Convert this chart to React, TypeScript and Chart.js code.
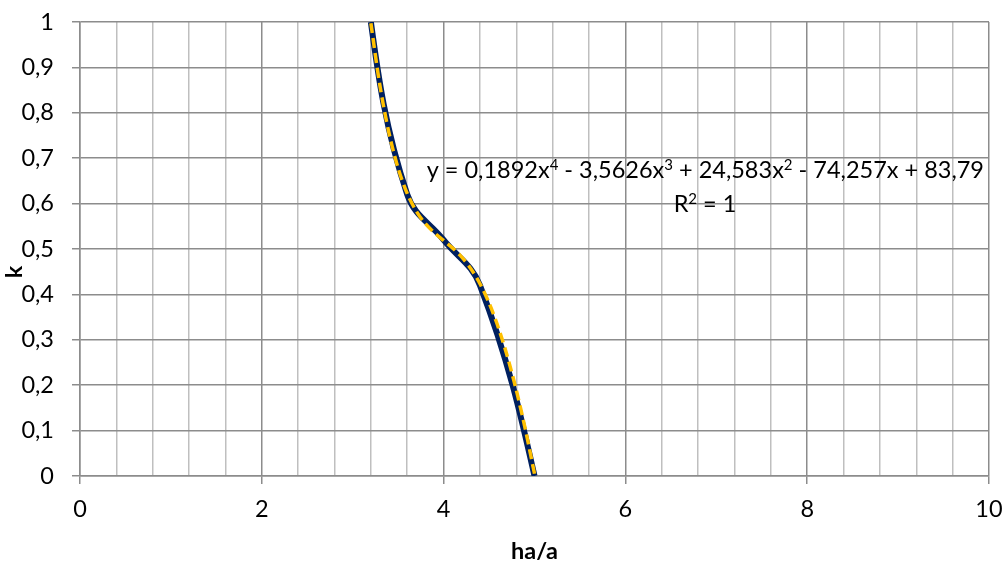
import React, { useEffect, useRef } from 'react';
import { Chart, registerables } from 'chart.js';

Chart.register(...registerables);

// Measured data (ha/a -> k)
const haA = [3.2, 3.6, 4.0, 4.4, 5.0];
const kValues = [1.0, 0.62, 0.52, 0.42, 0.0];

// Polynomial trendline shown on the chart (x^4, x^3, x^2, x, const)
const trendCoefficients = [0.1892, -3.5626, 24.583, -74.257, 83.79];
const trendSampleX = [3.2, 3.3, 3.4, 3.5, 3.6, 3.7, 3.8, 3.9, 4.0, 4.1, 4.2, 4.3, 4.4, 4.5, 4.6, 4.7, 4.8, 4.9, 5.0];

const xMajorLabels = ['0', '2', '4', '6', '8', '10'];
const yTickLabels = ['0', '0,1', '0,2', '0,3', '0,4', '0,5', '0,6', '0,7', '0,8', '0,9', '1'];

const xTitle = 'ha/a';
const yTitle = 'k';
// equation label: [text, isSuperscript]
const equationParts: [string, boolean][] = [
  ['y = 0,1892x', false], ['4', true],
  [' - 3,5626x', false], ['3', true],
  [' + 24,583x', false], ['2', true],
  [' - 74,257x + 83,79', false],
];
const r2Parts: [string, boolean][] = [['R', false], ['2', true], [' = 1', false]];

const FONT = 'Lato, "Open Sans", "Liberation Sans", sans-serif';
const FONT_SIZE = 23.5;
const SUP_SIZE = 15;

function evalPoly(c: number[], x: number) {
  return c.reduce((acc, v) => acc * x + v, 0);
}

const isMajor = (v: number) => Math.abs(v / 2 - Math.round(v / 2)) < 1e-6;

function drawParts(ctx: CanvasRenderingContext2D, parts: [string, boolean][], anchorX: number, y: number, align: 'right' | 'center') {
  const widths = parts.map(([t, sup]) => {
    ctx.font = `${sup ? SUP_SIZE : FONT_SIZE}px ${FONT}`;
    return ctx.measureText(t).width;
  });
  const total = widths.reduce((a, b) => a + b, 0);
  let x = align === 'right' ? anchorX - total : anchorX - total / 2;
  ctx.textAlign = 'left';
  ctx.textBaseline = 'alphabetic';
  parts.forEach(([t, sup], i) => {
    ctx.font = `${sup ? SUP_SIZE : FONT_SIZE}px ${FONT}`;
    ctx.fillText(t, x, sup ? y - 8 : y);
    x += widths[i];
  });
}

// Smoothed line like Excel: Chart.js spline inside, "natural" (zero-curvature) ends
const smoothPlugin = {
  id: 'excelSmooth',
  beforeDatasetsDraw(chart: any) {
    const meta = chart.getDatasetMeta(0);
    if (!meta.dataset || !meta.dataset.updateControlPoints) return;
    meta.dataset.updateControlPoints(chart.chartArea, 'x');
    const pts = meta.data;
    const n = pts.length;
    if (n < 3) return;
    const first = pts[0];
    const second = pts[1];
    first.cp2x = (first.x + second.cp1x) / 2;
    first.cp2y = (first.y + second.cp1y) / 2;
    const last = pts[n - 1];
    const beforeLast = pts[n - 2];
    last.cp1x = (last.x + beforeLast.cp2x) / 2;
    last.cp1y = (last.y + beforeLast.cp2y) / 2;
  },
};

export default function App() {
  const ref = useRef<HTMLCanvasElement>(null);

  useEffect(() => {
    document.body.style.margin = '0';
    const canvas = ref.current!;
    const dataPts = haA.map((x, i) => ({ x, y: kValues[i] }));
    const trendPts = trendSampleX.map((x) => ({ x, y: evalPoly(trendCoefficients, x) }));

    const textPlugin = {
      id: 'texts',
      afterDraw(chart: any) {
        const ctx = chart.ctx as CanvasRenderingContext2D;
        const area = chart.chartArea;
        ctx.save();
        ctx.fillStyle = '#000';
        ctx.font = `bold ${FONT_SIZE}px ${FONT}`;
        ctx.textAlign = 'center';
        ctx.textBaseline = 'middle';
        ctx.fillText(xTitle, (area.left + area.right) / 2, 551);
        ctx.save();
        ctx.translate(14, 272);
        ctx.rotate(-Math.PI / 2);
        ctx.fillText(yTitle, 0, 0);
        ctx.restore();
        drawParts(ctx, equationParts, 984, 178, 'right');
        drawParts(ctx, r2Parts, 705, 212, 'center');
        ctx.restore();
      },
    };

    const chart = new Chart(canvas, {
      type: 'scatter',
      data: {
        datasets: [
          {
            label: 'k',
            data: dataPts,
            showLine: true,
            borderColor: '#002060',
            backgroundColor: '#002060',
            borderWidth: 6,
            pointRadius: 0,
            tension: 0.4,
            order: 1,
          },
          {
            label: 'trend',
            data: trendPts,
            showLine: true,
            borderColor: '#FFC000',
            backgroundColor: '#FFC000',
            borderWidth: 3.5,
            borderDash: [10, 5],
            pointRadius: 0,
            tension: 0.3,
            order: 0,
          },
        ],
      },
      options: {
        animation: false,
        responsive: false,
        layout: { padding: { top: 22, right: 16, left: 0, bottom: 0 } },
        plugins: { legend: { display: false }, tooltip: { enabled: false } },
        scales: {
          x: {
            type: 'linear',
            min: 0,
            max: 10,
            afterFit: (s: any) => { s.height = 87; s.paddingLeft = 0; s.paddingRight = 0; },
            ticks: {
              stepSize: 0.4,
              autoSkip: false,
              maxRotation: 0,
              padding: 11,
              color: '#000',
              font: { family: FONT, size: FONT_SIZE },
              callback: (v: any) => (isMajor(Number(v)) ? xMajorLabels[Math.round(Number(v) / 2)] : ''),
            },
            grid: {
              color: (c: any) => (isMajor(c.tick.value) ? '#8C8C8C' : '#BFBFBF'),
              lineWidth: 1.5,
              tickLength: 8,
              tickColor: (c: any) => (isMajor(c.tick.value) ? '#8C8C8C' : 'rgba(0,0,0,0)'),
            },
            border: { color: '#8C8C8C', width: 1.5 },
          },
          y: {
            type: 'linear',
            min: 0,
            max: 1,
            afterFit: (s: any) => { s.width = 80; s.paddingTop = 0; s.paddingBottom = 0; },
            ticks: {
              stepSize: 0.1,
              padding: 18,
              color: '#000',
              font: { family: FONT, size: FONT_SIZE },
              callback: (v: any) => yTickLabels[Math.round(Number(v) * 10)],
            },
            grid: { color: '#8C8C8C', lineWidth: 1.5, tickLength: 8, tickColor: '#8C8C8C' },
            border: { color: '#8C8C8C', width: 1.5 },
          },
        },
      },
      plugins: [smoothPlugin, textPlugin],
    });
    return () => chart.destroy();
  }, []);

  return (
    <div style={{ width: 1005, height: 563, background: '#fff' }}>
      <canvas ref={ref} width={1005} height={563} style={{ display: 'block' }} />
    </div>
  );
}
